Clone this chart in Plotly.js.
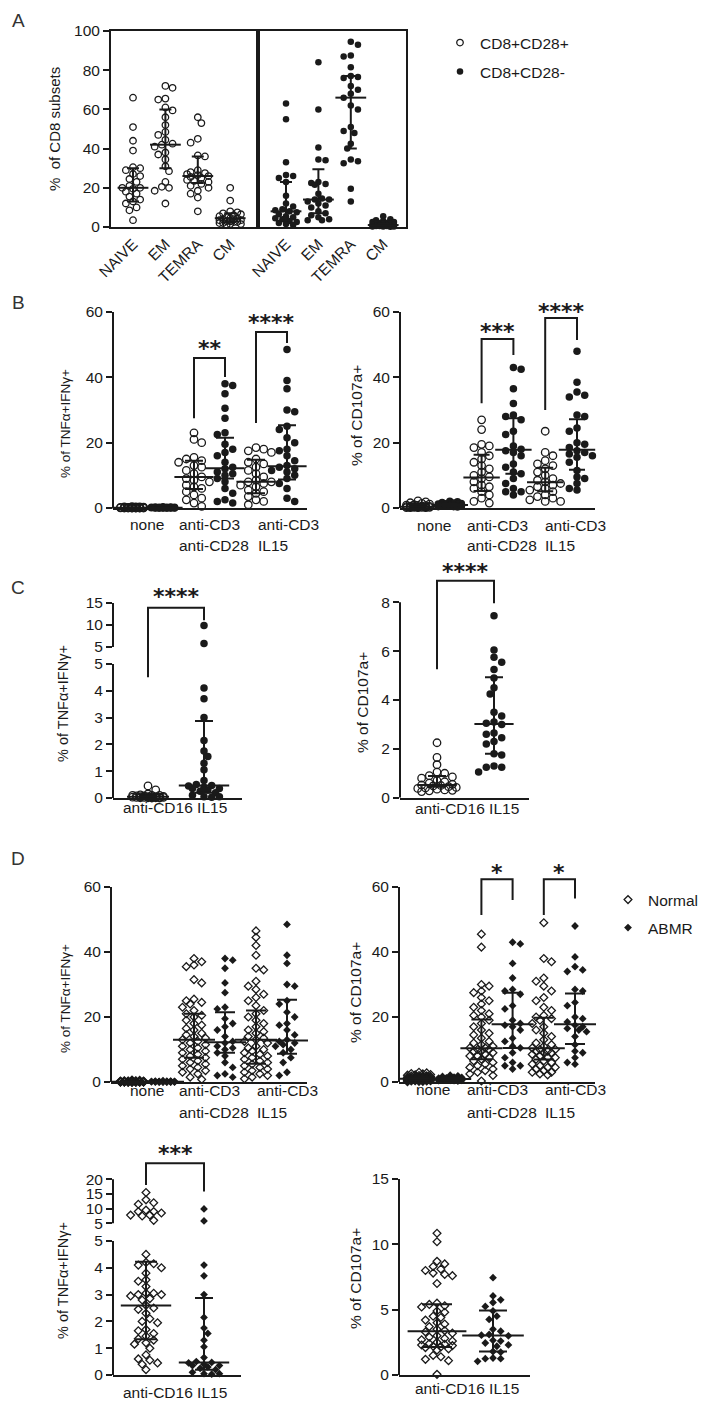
<!DOCTYPE html>
<html><head><meta charset="utf-8">
<script src="https://cdn.plot.ly/plotly-3.0.1.min.js"></script>
<style>html,body{margin:0;padding:0;background:#fff}#chart{width:718px;height:1417px}</style>
</head><body><div id="chart"></div>
<script>
// ================= DATA =================
const subsetCategories = ['NAIVE', 'EM', 'TEMRA', 'CM'];
const stimLabelLines = [['none'], ['anti-CD3', 'anti-CD28'], ['anti-CD3', 'IL15']];
const cd16Label = 'anti-CD16 IL15';
const legendNamesA = ['CD8+CD28+', 'CD8+CD28-'];
const legendNamesD = ['Normal', 'ABMR'];

// Panel A : % of CD8 subsets
const A_pos_NAIVE = [66, 51, 44, 39, 30.5, 30, 29, 27, 26, 24.5, 23, 21, 20, 20, 19.5, 18, 17, 15.5, 14, 13, 12, 10, 8.5, 3.5];
const A_pos_EM = [72, 71, 65.5, 65, 61, 59.5, 56, 52, 48.5, 47, 44.5, 42.5, 42, 41, 38, 37, 34.5, 31, 28.5, 23, 20.5, 20, 18.5, 12];
const A_pos_TEMRA = [56, 53, 45, 43, 36.5, 36, 29, 28, 27.5, 27, 26.5, 26, 25.5, 25, 24, 23.5, 23, 22, 21, 20, 18.5, 17, 15, 8];
const A_pos_CM = [20, 13.5, 8, 7.5, 7, 6.5, 6, 5.5, 5, 4.5, 4.5, 4, 4, 3.5, 3.5, 3, 3, 2.5, 2.5, 2, 2, 1.5, 1.5, 1];
const A_neg_NAIVE = [63, 55, 33, 26.5, 26, 25, 23, 16, 12, 10.5, 9, 8.5, 8, 7.5, 6.5, 5.5, 5, 4.5, 4, 3, 2.5, 2, 1.5, 1];
const A_neg_EM = [84, 60, 40.5, 34.5, 34, 23, 22.5, 22, 21.5, 17, 14.5, 14, 14, 13, 12, 11, 10, 8, 7, 6, 5, 4, 3.5, 3.5];
const A_neg_TEMRA = [94.5, 93, 87.5, 87, 81.5, 77, 76.5, 76, 72, 70, 68, 66, 62, 60, 51, 49, 48, 42.5, 40, 34.5, 33.5, 32.5, 19.5, 13];
const A_neg_CM = [5.5, 4, 3.5, 3, 2.5, 2.5, 2, 2, 1.5, 1.5, 1.5, 1, 1, 1, 1, 0.8, 0.8, 0.5, 0.5, 0.5, 0.3, 0.3, 0.2, 0.1];
// [median, q1, q3]
const A_pos_stats = [[20, 13, 30], [42, 30, 60], [26, 22.5, 36], [4.5, 2.5, 7]];
const A_neg_stats = [[8, 3.5, 23], [14, 7, 29.5], [66, 40, 77], [1, 0.5, 1.5]];

// Panel B : % of TNFa+IFNg+  (CD28+ = pos, CD28- = neg)
const B_tnf_pos_none = [0.4, 0.35, 0.3, 0.3, 0.25, 0.2, 0.2, 0.2, 0.15, 0.15, 0.1, 0.1, 0.1, 0.1, 0.05, 0.05, 0.05, 0.05, 0, 0, 0, 0, 0, 0];
const B_tnf_neg_none = [0.4, 0.3, 0.3, 0.25, 0.2, 0.2, 0.2, 0.15, 0.15, 0.1, 0.1, 0.1, 0.1, 0.05, 0.05, 0.05, 0.05, 0.05, 0, 0, 0, 0, 0, 0];
const B_tnf_pos_cd28 = [23, 21, 20, 15.5, 15, 14.5, 14, 13, 12.5, 11.5, 10.5, 9.5, 9, 8.5, 8, 7, 6.5, 6, 5, 4, 3, 2.5, 1.5, 0.5];
const B_tnf_neg_cd28 = [38, 37.5, 35, 30.5, 27.5, 23, 22.5, 19.5, 18, 17, 16, 14, 12.5, 12, 11, 10.5, 10, 9, 8, 6, 4.5, 2.5, 2, 1.5];
const B_tnf_pos_il15 = [18.5, 18, 17.5, 17, 15, 14, 13.5, 12.5, 11.5, 10.5, 9.5, 8.5, 8, 8, 7.5, 7, 6.5, 5.5, 5, 4.5, 3.5, 2.5, 2, 1];
const B_tnf_neg_il15 = [48.5, 39, 36.5, 30, 29.5, 25, 24, 21.5, 20, 18, 17.5, 16, 14.5, 13, 12.5, 12, 11.5, 11, 10, 9, 7.5, 6, 3, 2];
const B_tnf_pos_stats = [[0.1, 0, 0.2], [9.5, 5.8, 14.5], [8, 4.5, 14.8]];
const B_tnf_neg_stats = [[0.1, 0, 0.2], [12.2, 9, 21.5], [12.8, 8.7, 25.3]];

// Panel B : % of CD107a+
const B_cd107_pos_none = [2.2, 1.9, 1.6, 1.4, 1.2, 1.0, 0.9, 0.8, 0.7, 0.6, 0.5, 0.5, 0.4, 0.4, 0.3, 0.3, 0.3, 0.2, 0.2, 0.2, 0.1, 0.1, 0.1, 0.1];
const B_cd107_neg_none = [2.1, 1.9, 1.7, 1.5, 1.4, 1.3, 1.2, 1.1, 1.1, 1.0, 1.0, 0.9, 0.9, 0.8, 0.8, 0.7, 0.7, 0.6, 0.6, 0.5, 0.5, 0.4, 0.4, 0.3];
const B_cd107_pos_cd28 = [27, 24, 19.5, 19, 18.5, 17, 16, 15, 14, 13, 12, 11, 10, 9.5, 9, 8, 7, 6.5, 6, 5, 4, 3, 2, 1.5];
const B_cd107_neg_cd28 = [43, 42.5, 36.5, 32, 28.5, 28, 27, 23.5, 22.5, 19, 18, 17.5, 17, 16, 13.5, 12.5, 11, 10.5, 9, 7.5, 6, 5, 5, 4];
const B_cd107_pos_il15 = [23.5, 17, 16, 14.5, 13.5, 13, 12, 11, 10, 9, 8.5, 8, 7.5, 7, 6.5, 6, 5.5, 5, 4, 3.5, 3, 2.5, 2, 2];
const B_cd107_neg_il15 = [48, 38.5, 35.5, 34.5, 34, 28.5, 28, 24.5, 23.5, 20, 19.5, 18.5, 17.5, 17, 16.5, 16, 15.5, 14, 11.5, 9.5, 9, 7.5, 6, 5.5];
const B_cd107_pos_stats = [[0.4, 0.2, 0.9], [9.3, 5.2, 16.3], [7.9, 5.1, 12.3]];
const B_cd107_neg_stats = [[0.9, 0.6, 1.2], [17.8, 10.5, 27.5], [17.8, 11.7, 27.2]];

// Panel C : anti-CD16 IL15
const C_tnf_pos = [0.45, 0.3, 0.15, 0.12, 0.1, 0.1, 0.1, 0.08, 0.08, 0.06, 0.05, 0.05, 0.05, 0.04, 0.03, 0.03, 0.02, 0.02, 0.02, 0.01, 0.01, 0.01, 0, 0];
const C_tnf_neg = [9.9, 5.8, 4.1, 3.7, 3.0, 2.15, 1.75, 1.55, 1.3, 1.05, 0.65, 0.5, 0.47, 0.45, 0.4, 0.35, 0.35, 0.3, 0.25, 0.2, 0.1, 0.05, 0.05, 0.03];
const C_tnf_stats = [[0.05, 0.02, 0.1], [0.47, 0.2, 2.87]];
const C_cd107_pos = [2.25, 1.65, 1.35, 1.05, 1.0, 0.9, 0.85, 0.8, 0.7, 0.65, 0.6, 0.55, 0.52, 0.5, 0.48, 0.45, 0.42, 0.4, 0.38, 0.35, 0.32, 0.3, 0.28, 0.25];
const C_cd107_neg = [7.45, 6.05, 5.75, 5.55, 5.25, 4.9, 4.5, 4.25, 3.5, 3.35, 3.1, 3.05, 3.0, 2.65, 2.6, 2.45, 2.3, 2.2, 1.8, 1.75, 1.3, 1.25, 1.25, 1.05];
const C_cd107_stats = [[0.52, 0.45, 0.89], [3.02, 1.8, 4.93]];

// Panel D : Normal vs ABMR (ABMR values identical to the CD28- series above)
const D_tnf_norm_none = [0.6, 0.5, 0.4, 0.4, 0.3, 0.3, 0.3, 0.25, 0.2, 0.2, 0.2, 0.2, 0.15, 0.15, 0.15, 0.1, 0.1, 0.1, 0.1, 0.1, 0.08, 0.08, 0.06, 0.06, 0.05, 0.05, 0.05, 0.05, 0.04, 0.04, 0.03, 0.03, 0.03, 0.02, 0.02, 0.02, 0.02, 0.01, 0.01, 0.01, 0.01, 0, 0, 0, 0, 0, 0, 0];
const D_tnf_norm_cd28 = [38, 37, 36, 35.5, 31.5, 30.5, 25.5, 25, 24.5, 24, 23, 22, 21, 20.5, 20, 19, 18, 17.5, 16.5, 16, 15, 14.5, 14, 13.5, 13, 12.5, 12, 11.5, 11, 10.5, 10, 9.5, 9, 8.5, 8, 7.5, 7, 6.5, 6, 5.5, 5, 4.5, 4, 3.5, 3, 2.5, 1.5, 0.8];
const D_tnf_norm_il15 = [46.5, 44.5, 42, 39, 35, 34.5, 31, 29.5, 28.5, 27, 26, 25, 23.5, 22, 21, 20, 19, 18, 17, 16, 15.5, 15, 14, 13.5, 13, 12.5, 12, 11, 10.5, 10, 9.5, 9, 8.5, 8, 7.5, 7, 6.5, 6, 5.5, 5, 4.5, 4, 3.5, 3, 2.5, 2, 1.5, 1];
const D_tnf_norm_stats = [[0.05, 0, 0.1], [13, 7.5, 21], [13, 5.6, 22]];
const D_cd107_norm_none = [3.0, 2.8, 2.6, 2.5, 2.3, 2.2, 2.1, 2.0, 1.9, 1.8, 1.8, 1.7, 1.6, 1.5, 1.5, 1.4, 1.4, 1.3, 1.3, 1.2, 1.2, 1.1, 1.1, 1.0, 1.0, 1.0, 0.9, 0.9, 0.9, 0.8, 0.8, 0.8, 0.7, 0.7, 0.7, 0.6, 0.6, 0.6, 0.5, 0.5, 0.5, 0.4, 0.4, 0.3, 0.3, 0.2, 0.2, 0.1];
const D_cd107_norm_cd28 = [45.5, 41.5, 30, 29.5, 28, 27.5, 26, 25, 24, 23, 22, 21, 20.5, 20, 19, 18, 17, 16, 15, 14.5, 13.5, 12.5, 12, 11.5, 11, 10.5, 10.5, 10, 10, 9.5, 9.5, 9, 8.5, 8, 8, 7.5, 7, 6.5, 6, 5.5, 5, 4.5, 4, 3.5, 3, 2.5, 2, 0.3];
const D_cd107_norm_il15 = [49, 38, 37, 32, 31, 29.5, 28, 26, 25, 23, 22, 20.5, 20, 19.5, 19, 18, 17, 16, 15, 14, 13, 12, 11.5, 11, 10.5, 10, 10, 9.5, 9.5, 9, 9, 8.5, 8, 7.5, 7.5, 7, 6.5, 6, 5.5, 5, 4.5, 4.5, 4, 3.5, 3, 3, 2.5, 2.2];
const D_cd107_norm_stats = [[1.0, 0.6, 1.5], [10.4, 7, 19.2], [10.4, 6.9, 19.8]];
const D_tnf_norm_cd16 = [15.5, 13, 12, 11.5, 9.5, 9, 9, 8.5, 7.8, 7.8, 7.5, 6, 4.5, 4.2, 4.15, 4.1, 4.0, 3.8, 3.55, 3.5, 3.3, 3.05, 3.05, 3.0, 3.0, 2.95, 2.85, 2.8, 2.6, 2.5, 2.45, 2.3, 2.1, 2.0, 1.95, 1.7, 1.65, 1.55, 1.45, 1.35, 1.3, 1.2, 1.15, 1.0, 0.75, 0.6, 0.55, 0.45, 0.4, 0.2];
const D_tnf_norm_cd16_stats = [2.59, 1.33, 4.23];
const D_cd107_norm_cd16 = [10.85, 10.2, 8.7, 8.5, 8.3, 8.1, 8.0, 7.8, 7.7, 7.6, 7.0, 5.5, 5.4, 5.3, 5.2, 4.9, 4.8, 4.5, 4.4, 4.2, 4.0, 3.9, 3.7, 3.5, 3.4, 3.3, 3.2, 3.0, 2.9, 2.8, 2.7, 2.6, 2.5, 2.4, 2.35, 2.3, 2.25, 2.2, 2.15, 2.1, 2.0, 1.9, 1.5, 1.4, 1.2, 1.1, 0.05];
const D_cd107_norm_cd16_stats = [3.34, 2.14, 5.42];

// ================= LAYOUT HELPERS =================
const W = 718, H = 1417;
const FONT = 'Liberation Sans, Arial, Helvetica, sans-serif';
const INK = '#1a1a1a';
const data = [], shapes = [], annotations = [];
const layout = {
  width: W, height: H, margin: {l: 0, r: 0, t: 0, b: 0},
  paper_bgcolor: '#ffffff', plot_bgcolor: 'rgba(0,0,0,0)',
  showlegend: true, hovermode: false, shapes, annotations,
  font: {family: FONT, size: 15, color: INK}
};

function yCal(v1, p1, v2, p2, pTop, pBot) {
  const s = (p2 - p1) / (v2 - v1); const inv = p => v1 + (p - p1) / s;
  return {domain: [1 - pBot / H, 1 - pTop / H], range: [inv(pBot), inv(pTop)], ppu: Math.abs(s)};
}
function xCal(p0, step, pL, pR) {
  const inv = p => (p - p0) / step;
  return {domain: [pL / W, pR / W], range: [inv(pL), inv(pR)], ppu: step};
}
function baseAxis() {
  return {showgrid: false, zeroline: false, linecolor: INK, linewidth: 2, tickcolor: INK, tickwidth: 2,
    ticklen: 6, tickfont: {family: FONT, size: 15.5, color: INK}, fixedrange: true, showline: false};
}
const ref = (l, n) => l + (n === 1 ? '' : n);
function setX(n, c, extra) { layout['xaxis' + (n === 1 ? '' : n)] = Object.assign(baseAxis(), {domain: c.domain, range: c.range}, extra); }
function setY(n, c, extra) { layout['yaxis' + (n === 1 ? '' : n)] = Object.assign(baseAxis(), {domain: c.domain, range: c.range}, extra); }

function swarm(vals, yppu, diam, maxHalf) {
  const order = vals.map((v, i) => i).sort((a, b) => vals[b] - vals[a] || a - b);
  const placed = [], off = new Array(vals.length).fill(0);
  const step = diam * 0.55, K = Math.max(0, Math.floor(maxHalf / step));
  let side = 1;
  for (const i of order) {
    const y = vals[i] * yppu;
    const cands = [0];
    for (let k = 1; k <= K; k++) cands.push(side * k * step, -side * k * step);
    let best = 0, bestD = -1;
    for (const x of cands) {
      let md = 1e9;
      for (const p of placed) { if (Math.abs(p.y - y) >= diam) continue; const d = Math.hypot(p.x - x, p.y - y); if (d < md) md = d; }
      if (md >= diam * 0.92) { best = x; bestD = md; break; }
      if (md > bestD) { bestD = md; best = x; }
    }
    if (best !== 0) side = -side;
    placed.push({x: best, y}); off[i] = best;
  }
  return off;
}
function markerFor(style, size) {
  const sym = {pos: 'circle-open', neg: 'circle', norm: 'diamond-open', abmr: 'diamond'}[style];
  const open = style === 'pos' || style === 'norm';
  return {symbol: sym, size, color: INK, line: {width: open ? 1.3 : 0, color: INK}};
}
function addGroup(o) {
  if (!o.vals.length) return;
  const off = swarm(o.vals, o.yc.ppu, o.diam, o.maxHalf);
  data.push({type: 'scatter', mode: 'markers', xaxis: ref('x', o.xn), yaxis: ref('y', o.yn),
    x: o.vals.map((v, i) => o.slot + off[i] / o.xc.ppu), y: o.vals.slice(),
    marker: markerFor(o.style, o.size), cliponaxis: false, hoverinfo: 'skip',
    showlegend: !!o.legend, legend: o.legend || 'legend', name: o.name || ''});
}
function addBrokenGroup(o) {
  addGroup(Object.assign({}, o, {yn: o.ynLo, yc: o.ycLo, vals: o.vals.filter(v => v <= o.cut)}));
  addGroup(Object.assign({}, o, {yn: o.ynUp, yc: o.ycUp, vals: o.vals.filter(v => v > o.cut), legend: null}));
}
function addStats(xn, yn, slot, st, medW, capW) {
  const [m, q1, q3] = st;
  data.push({type: 'scatter', mode: 'markers', xaxis: ref('x', xn), yaxis: ref('y', yn), x: [slot], y: [m],
    marker: {symbol: 'line-ew', size: medW, color: INK, line: {width: 2, color: INK}},
    error_y: {type: 'data', symmetric: false, array: [q3 - m], arrayminus: [m - q1], width: capW, thickness: 2, color: INK},
    cliponaxis: false, hoverinfo: 'skip', showlegend: false});
}
function yLine(xn, yn, y0, y1) {
  shapes.push({type: 'line', xref: ref('x', xn) + ' domain', yref: ref('y', yn), x0: 0, x1: 0, y0, y1, line: {color: INK, width: 2}});
}
function bracketPath(xn, yn, s0, s1, yl, top, yr) {
  shapes.push({type: 'path', xref: ref('x', xn), yref: ref('y', yn),
    path: `M${s0},${yl} L${s0},${top} L${s1},${top} L${s1},${yr}`, line: {color: INK, width: 2}});
}
function stars(xn, yn, x, y, txt) {
  annotations.push({xref: ref('x', xn), yref: ref('y', yn), x, y, text: '<b>' + txt + '</b>', showarrow: false,
    yshift: -4, font: {family: 'DejaVu Sans', size: 22, color: INK}});
}
function textAt(text, px, py, anchor) {
  annotations.push({xref: 'paper', yref: 'paper', x: px / W, y: 1 - py / H, xanchor: anchor, yanchor: 'middle',
    text, showarrow: false, font: {family: FONT, size: 15.5, color: INK}});
}
function yTitle(text, px, py, size) {
  annotations.push({xref: 'paper', yref: 'paper', x: px / W, y: 1 - py / H, xanchor: 'center', yanchor: 'middle',
    textangle: -90, text, showarrow: false, font: {family: FONT, size: size || 15.5, color: INK}});
}
function letter(t, px, py) {
  annotations.push({xref: 'paper', yref: 'paper', x: px / W, y: 1 - py / H, xanchor: 'center', yanchor: 'middle',
    text: t, showarrow: false, font: {family: FONT, size: 19, color: '#333'}});
}
function stimLabels(xNone, xG2, xG3, y1, y2) {
  textAt(stimLabelLines[0][0], xNone, y1, 'center');
  textAt(stimLabelLines[1][0], xG2, y1, 'left'); textAt(stimLabelLines[1][1], xG2, y2, 'left');
  textAt(stimLabelLines[2][0], xG3, y1, 'left'); textAt(stimLabelLines[2][1], xG3, y2, 'left');
}
const stdX = (n, yn) => ({anchor: ref('y', yn), showline: true, ticks: '', showticklabels: false});
const stdY = (xn, vals) => ({anchor: ref('x', xn), ticks: 'outside', tickvals: vals});
const legFont = {family: FONT, size: 15.5, color: INK};

// ================= PANEL A =================
const xA1 = xCal(133, 32.4, 111, 258), xA2 = xCal(286, 32.4, 258, 406), yA = yCal(0, 227, 100, 31, 31, 227);
setX(1, xA1, {anchor: 'y', showline: true, mirror: true, ticks: '', tickvals: [0, 1, 2, 3], ticktext: subsetCategories, tickangle: -45});
setY(1, yA, {anchor: 'x', showline: true, mirror: true, ticks: 'outside', tickvals: [0, 20, 40, 60, 80, 100]});
setX(2, xA2, {anchor: 'y2', showline: true, mirror: true, ticks: '', tickvals: [0, 1, 2, 3], ticktext: subsetCategories, tickangle: -45});
setY(2, yA, {anchor: 'x2', showline: true, mirror: true, ticks: '', showticklabels: false});
[A_pos_NAIVE, A_pos_EM, A_pos_TEMRA, A_pos_CM].forEach((v, i) => addGroup({xn: 1, yn: 1, xc: xA1, yc: yA, slot: i, vals: v, style: 'pos', size: 6.5, diam: 6.5, maxHalf: 14, legend: i === 0 ? 'legend' : null, name: legendNamesA[0]}));
[A_neg_NAIVE, A_neg_EM, A_neg_TEMRA, A_neg_CM].forEach((v, i) => addGroup({xn: 2, yn: 2, xc: xA2, yc: yA, slot: i, vals: v, style: 'neg', size: 6.5, diam: 6.5, maxHalf: 14, legend: i === 0 ? 'legend2' : null, name: legendNamesA[1]}));
A_pos_stats.forEach((s, i) => addStats(1, 1, i, s, 22, 6));
A_neg_stats.forEach((s, i) => addStats(2, 2, i, s, 22, 6));
yTitle('%\u00a0 of CD8 subsets', 55, 129, 15);
letter('A', 18, 20);
layout.legend = {x: 440 / W, xanchor: 'left', y: 1 - 43 / H, yanchor: 'middle', bgcolor: 'rgba(0,0,0,0)', font: legFont};
layout.legend2 = {x: 440 / W, xanchor: 'left', y: 1 - 72 / H, yanchor: 'middle', bgcolor: 'rgba(0,0,0,0)', font: legFont};

// ================= PANEL B =================
function stimPanel(xn, yn, xc, yc, pos, neg, posSt, negSt, stylePos, styleNeg, size, maxHalf, medW, capW, leg) {
  for (let g = 0; g < 3; g++) {
    addGroup({xn, yn, xc, yc, slot: 2 * g, vals: pos[g], style: stylePos, size, diam: 7, maxHalf: g === 0 ? 12 : maxHalf, legend: (leg && g === 0) ? leg[0] : null, name: leg ? legendNamesD[0] : ''});
    addGroup({xn, yn, xc, yc, slot: 2 * g + 1, vals: neg[g], style: styleNeg, size, diam: 7, maxHalf: g === 0 ? 12 : maxHalf, legend: (leg && g === 0) ? leg[1] : null, name: leg ? legendNamesD[1] : ''});
  }
  for (let g = 0; g < 3; g++) { addStats(xn, yn, 2 * g, posSt[g], medW, capW); addStats(xn, yn, 2 * g + 1, negSt[g], medW, capW); }
}
const xB1 = xCal(132, 31, 113, 307), yB = yCal(0, 508, 60, 312, 285, 508);
setX(3, xB1, stdX(3, 3)); setY(3, yB, stdY(3, [0, 20, 40, 60])); yLine(3, 3, 0, 60);
stimPanel(3, 3, xB1, yB, [B_tnf_pos_none, B_tnf_pos_cd28, B_tnf_pos_il15], [B_tnf_neg_none, B_tnf_neg_cd28, B_tnf_neg_il15], B_tnf_pos_stats, B_tnf_neg_stats, 'pos', 'neg', 7.5, 16, 28, 9, null);
bracketPath(3, 3, 2, 3, 27.5, 45.9, 40.1); stars(3, 3, 2.5, 49.9, '**');
bracketPath(3, 3, 4, 5, 26, 53.9, 50.5); stars(3, 3, 4.5, 57.9, '****');
yTitle('% of TNFα+IFNγ+', 65, 424, 13.5);
stimLabels(147, 177, 256, 524, 545);
letter('B', 18, 302);

const xB2 = xCal(418, 31.8, 400, 595);
setX(4, xB2, stdX(4, 4)); setY(4, yB, stdY(4, [0, 20, 40, 60])); yLine(4, 4, 0, 60);
stimPanel(4, 4, xB2, yB, [B_cd107_pos_none, B_cd107_pos_cd28, B_cd107_pos_il15], [B_cd107_neg_none, B_cd107_neg_cd28, B_cd107_neg_il15], B_cd107_pos_stats, B_cd107_neg_stats, 'pos', 'neg', 7.5, 16, 26, 8, null);
bracketPath(4, 4, 2, 3, 32.1, 51.7, 46.8); stars(4, 4, 2.5, 55.4, '***');
bracketPath(4, 4, 4, 5, 30, 58.2, 51.4); stars(4, 4, 4.5, 61.5, '****');
yTitle('% of CD107a+', 356, 416);
stimLabels(434, 465, 543, 525, 545);

// ================= PANEL C =================
const xC1 = xCal(148, 56, 113, 242), yC1lo = yCal(0, 798, 5, 664, 655, 798), yC1up = yCal(5, 647, 15, 603, 570, 655);
setX(5, xC1, stdX(5, 5)); setY(5, yC1lo, stdY(5, [0, 1, 2, 3, 4, 5])); setY(6, yC1up, stdY(5, [5, 10, 15]));
yLine(5, 5, 0, 5); yLine(5, 6, 5, 15);
addBrokenGroup({xn: 5, ynLo: 5, ynUp: 6, xc: xC1, ycLo: yC1lo, ycUp: yC1up, cut: 5, slot: 0, vals: C_tnf_pos, style: 'pos', size: 7.5, diam: 7, maxHalf: 18});
addBrokenGroup({xn: 5, ynLo: 5, ynUp: 6, xc: xC1, ycLo: yC1lo, ycUp: yC1up, cut: 5, slot: 1, vals: C_tnf_neg, style: 'neg', size: 7.5, diam: 7, maxHalf: 18});
addStats(5, 5, 0, C_tnf_stats[0], 30, 9); addStats(5, 5, 1, C_tnf_stats[1], 36, 9);
shapes.push({type: 'line', xref: 'x5', yref: 'y5', x0: 0, x1: 0, y0: 4.51, y1: yC1lo.range[1], line: {color: INK, width: 2}});
bracketPath(5, 6, 0, 1, yC1up.range[0], 13.9, 11.1); stars(5, 6, 0.5, 17.3, '****');
yTitle('% of TNFα+IFNγ+', 63, 703, 14.5);
textAt(cd16Label, 175, 807, 'center');
letter('C', 18, 587);

const xC2 = xCal(437, 57, 400, 529), yC2 = yCal(0, 797.7, 8, 602.3, 550, 797.7);
setX(6, xC2, stdX(6, 7)); setY(7, yC2, stdY(6, [0, 2, 4, 6, 8])); yLine(6, 7, 0, 8);
addGroup({xn: 6, yn: 7, xc: xC2, yc: yC2, slot: 0, vals: C_cd107_pos, style: 'pos', size: 7.5, diam: 7, maxHalf: 20});
addGroup({xn: 6, yn: 7, xc: xC2, yc: yC2, slot: 1, vals: C_cd107_neg, style: 'neg', size: 7.5, diam: 7, maxHalf: 22});
addStats(6, 7, 0, C_cd107_stats[0], 28, 9); addStats(6, 7, 1, C_cd107_stats[1], 28, 9);
bracketPath(6, 7, 0, 1, 5.26, 8.88, 7.96); stars(6, 7, 0.5, 9.43, '****');
yTitle('% of CD107a+', 362, 703);
textAt(cd16Label, 467, 808, 'center');

// ================= PANEL D =================
const xD1 = xCal(132, 31, 111, 307), yD1 = yCal(0, 1082, 60, 887, 860, 1082);
setX(7, xD1, stdX(7, 8)); setY(8, yD1, stdY(7, [0, 20, 40, 60])); yLine(7, 8, 0, 60);
stimPanel(7, 8, xD1, yD1, [D_tnf_norm_none, D_tnf_norm_cd28, D_tnf_norm_il15], [B_tnf_neg_none, B_tnf_neg_cd28, B_tnf_neg_il15], D_tnf_norm_stats, B_tnf_neg_stats, 'norm', 'abmr', 6, 15, 30, 10, ['legend3', 'legend4']);
yTitle('% of TNFα+IFNγ+', 65, 999, 13.5);
stimLabels(147, 177, 255, 1090, 1112);
letter('D', 18, 858);

const xD2 = xCal(419, 31.2, 399, 595), yD2 = yCal(0, 1082, 60, 887, 850, 1082);
setX(8, xD2, stdX(8, 9)); setY(9, yD2, stdY(8, [0, 20, 40, 60])); yLine(8, 9, 0, 60);
stimPanel(8, 9, xD2, yD2, [D_cd107_norm_none, D_cd107_norm_cd28, D_cd107_norm_il15], [B_cd107_neg_none, B_cd107_neg_cd28, B_cd107_neg_il15], D_cd107_norm_stats, B_cd107_neg_stats, 'norm', 'abmr', 6, 15, 30, 10, null);
bracketPath(8, 9, 2, 3, 51.4, 62.4, 56); stars(8, 9, 2.5, 65.8, '*');
bracketPath(8, 9, 4, 5, 51.4, 62.4, 56.5); stars(8, 9, 4.5, 65.8, '*');
yTitle('% of CD107a+', 355, 993);
stimLabels(433, 465, 543, 1089, 1112);
layout.legend3 = {x: 608 / W, xanchor: 'left', y: 1 - 900 / H, yanchor: 'middle', bgcolor: 'rgba(0,0,0,0)', font: legFont};
layout.legend4 = {x: 608 / W, xanchor: 'left', y: 1 - 928 / H, yanchor: 'middle', bgcolor: 'rgba(0,0,0,0)', font: legFont};

const xD3 = xCal(146, 58, 113, 241), yD3lo = yCal(0, 1375, 5, 1241, 1232, 1375), yD3up = yCal(5, 1223.3, 20, 1179.3, 1135, 1232);
setX(9, xD3, stdX(9, 10)); setY(10, yD3lo, stdY(9, [0, 1, 2, 3, 4, 5])); setY(11, yD3up, stdY(9, [5, 10, 15, 20]));
yLine(9, 10, 0, 5); yLine(9, 11, 5, 20);
addBrokenGroup({xn: 9, ynLo: 10, ynUp: 11, xc: xD3, ycLo: yD3lo, ycUp: yD3up, cut: 5, slot: 0, vals: D_tnf_norm_cd16, style: 'norm', size: 6, diam: 7, maxHalf: 18});
addBrokenGroup({xn: 9, ynLo: 10, ynUp: 11, xc: xD3, ycLo: yD3lo, ycUp: yD3up, cut: 5, slot: 1, vals: C_tnf_neg, style: 'abmr', size: 6, diam: 7, maxHalf: 18});
addStats(9, 10, 0, D_tnf_norm_cd16_stats, 36, 11); addStats(9, 10, 1, C_tnf_stats[1], 36, 9);
bracketPath(9, 11, 0, 1, 18.07, 25.5, 15.8); stars(9, 11, 0.5, 30, '***');
yTitle('% of TNFα+IFNγ+', 63, 1280, 14.5);
textAt(cd16Label, 175, 1392, 'center');

const xD4 = xCal(437, 56, 399, 530), yD4 = yCal(0, 1375, 15, 1179, 1160, 1375);
setX(10, xD4, stdX(10, 12)); setY(12, yD4, stdY(10, [0, 5, 10, 15])); yLine(10, 12, 0, 15);
addGroup({xn: 10, yn: 12, xc: xD4, yc: yD4, slot: 0, vals: D_cd107_norm_cd16, style: 'norm', size: 6, diam: 7, maxHalf: 18});
addGroup({xn: 10, yn: 12, xc: xD4, yc: yD4, slot: 1, vals: C_cd107_neg, style: 'abmr', size: 6, diam: 7, maxHalf: 18});
addStats(10, 12, 0, D_cd107_norm_cd16_stats, 42, 15); addStats(10, 12, 1, C_cd107_stats[1], 44, 14);
yTitle('% of CD107a+', 355, 1279);
textAt(cd16Label, 467, 1388, 'center');

Plotly.newPlot('chart', data, layout, {staticPlot: true, displayModeBar: false});
</script>
</body></html>
